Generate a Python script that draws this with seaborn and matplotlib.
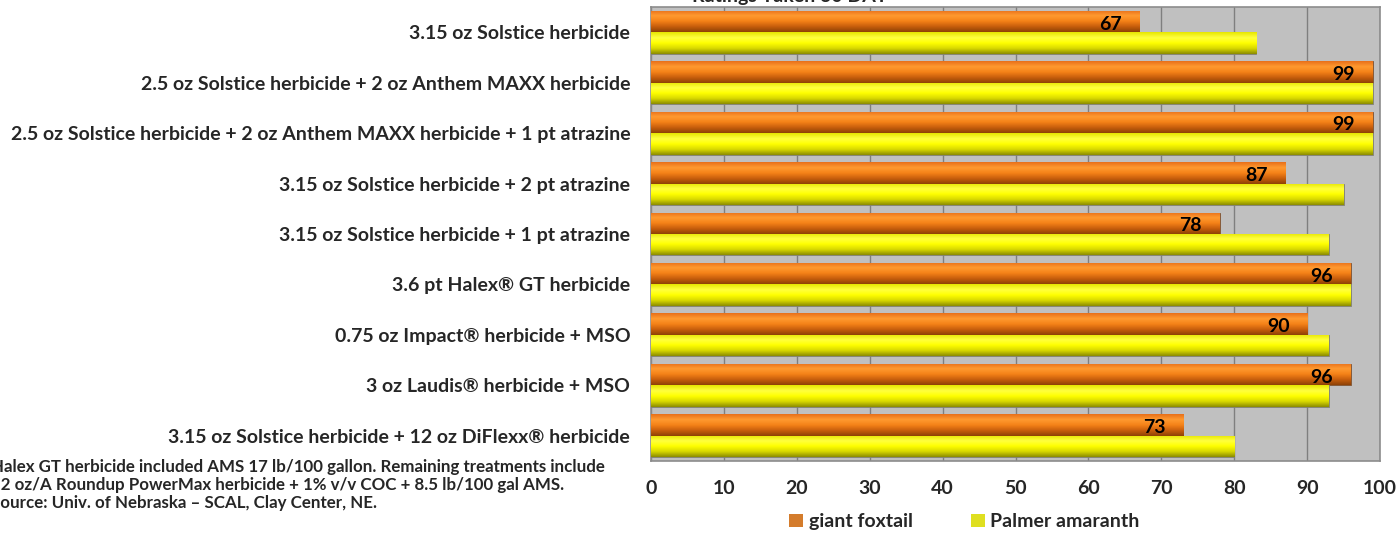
import numpy as np
import pandas as pd
import matplotlib
matplotlib.use("Agg")
import matplotlib.pyplot as plt
from matplotlib.colors import LinearSegmentedColormap
import seaborn as sns

treatments = [
    "3.15 oz Solstice herbicide",
    "2.5 oz Solstice herbicide + 2 oz Anthem MAXX herbicide",
    "2.5 oz Solstice herbicide + 2 oz Anthem MAXX herbicide + 1 pt atrazine",
    "3.15 oz Solstice herbicide + 2 pt atrazine",
    "3.15 oz Solstice herbicide + 1 pt atrazine",
    "3.6 pt Halex\u00ae GT herbicide",
    "0.75 oz Impact\u00ae herbicide + MSO",
    "3 oz Laudis\u00ae herbicide + MSO",
    "3.15 oz Solstice herbicide + 12 oz DiFlexx\u00ae herbicide",
]
giant_foxtail = [67, 99, 99, 87, 78, 96, 90, 96, 73]
palmer_amaranth = [83, 99, 99, 95, 93, 96, 93, 93, 80]
series_names = ["giant foxtail", "Palmer amaranth"]
x_ticks = [0, 10, 20, 30, 40, 50, 60, 70, 80, 90, 100]
title = "Ratings Taken 30 DAT"
footnote = [
    "Halex GT herbicide included AMS 17 lb/100 gallon. Remaining treatments include",
    "32 oz/A Roundup PowerMax herbicide + 1% v/v COC + 8.5 lb/100 gal AMS.",
    "Source: Univ. of Nebraska \u2013 SCAL, Clay Center, NE.",
]

df = pd.DataFrame({
    "Treatment": treatments * 2,
    "Series": [series_names[0]] * len(treatments) + [series_names[1]] * len(treatments),
    "Rating": giant_foxtail + palmer_amaranth,
})

sns.set_style("white")
plt.rcParams["font.family"] = ["Lato", "DejaVu Sans"]
plt.rcParams["font.weight"] = "bold"

W, H = 1397, 534
fig = plt.figure(figsize=(W / 100, H / 100), dpi=100)
ax = fig.add_axes([651 / W, 1 - 461 / H, (1380 - 651) / W, (461 - 7) / H])
ax.set_facecolor("#C0C0C0")

colors = {series_names[0]: "#F07A10", series_names[1]: "#FFFF00"}
sns.barplot(data=df, y="Treatment", x="Rating", hue="Series", orient="h",
            palette=colors, width=0.85, ax=ax, legend=True, zorder=3,
            edgecolor="none")

# gradient fills for bevel-like look
cmaps = {
    0: LinearSegmentedColormap.from_list("o", ["#E8701A", "#FF9A30", "#F58218", "#C85E0C", "#8E4206"]),
    1: LinearSegmentedColormap.from_list("y", ["#E6E600", "#FFFF40", "#FFFF00", "#D8D800", "#8C8C00"]),
}
grad = np.linspace(0, 1, 64).reshape(-1, 1)
for ci, cont in enumerate(ax.containers):
    for p in cont.patches:
        x0, y0 = p.get_x(), p.get_y()
        w, h = p.get_width(), p.get_height()
        im = ax.imshow(grad, cmap=cmaps[ci], aspect="auto",
                       extent=(x0, x0 + w, y0 + h, y0), zorder=3.5,
                       interpolation="bilinear")
        im.set_clip_path(p)
        p.set_edgecolor("#7A7A7A" if ci else "#7A5030")
        p.set_linewidth(0.6)

# value labels on giant foxtail bars
for p, v in zip(ax.containers[0].patches, giant_foxtail):
    ax.text(p.get_x() + p.get_width() - 2.4, p.get_y() + p.get_height() / 2 + 0.05,
            f"{v}", ha="right", va="center", fontsize=14, fontweight="bold",
            color="black", zorder=5)

ax.set_xlim(0, 100)
ax.set_ylim(len(treatments) - 0.5, -0.5)
ax.set_xticks(x_ticks)
ax.set_xticklabels([str(t) for t in x_ticks], fontsize=14, fontweight="bold")
ax.tick_params(axis="x", length=5, color="#808080", pad=9, width=1)
ax.tick_params(axis="y", length=0, pad=15, labelsize=14)
for lbl in ax.get_yticklabels():
    lbl.set_fontweight("bold")
ax.set_xlabel("")
ax.set_ylabel("")
ax.grid(axis="x", color="#7F7F7F", linewidth=1, zorder=0)
ax.set_axisbelow(True)
for s in ax.spines.values():
    s.set_color("#8C8C8C")
    s.set_linewidth(1.2)

leg = ax.legend(loc="center", bbox_to_anchor=(0.43, -0.134), ncol=2,
                frameon=False, handlelength=0.7, handleheight=0.7,
                handletextpad=0.3, columnspacing=3.0,
                prop={"weight": "bold", "size": 14})

fig.text(790 / W, 1 - 2 / H, title, ha="center", va="baseline",
         fontsize=14, fontweight="bold")

for i, line in enumerate(footnote):
    fig.text(-9 / W, 1 - (467 + 18 * i) / H, line, ha="left", va="center",
             fontsize=12.2, fontweight="bold")

fig.savefig("out.png", dpi=100)
